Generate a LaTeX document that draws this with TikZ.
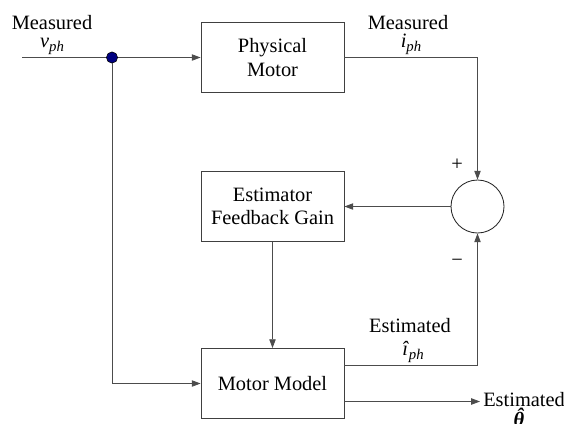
\documentclass[tikz,border=0pt]{standalone}
\usepackage{fontspec}
\setmainfont{Liberation Serif}
\usetikzlibrary{arrows.meta}
\newcommand{\lowsub}[2]{\textit{#1}\raisebox{-0.45ex}{\fontsize{10.5}{12}\selectfont\textit{#2}}}
\newcommand{\hatchar}[1]{\ooalign{#1\cr\hidewidth\kern0.1em\raisebox{0.16em}{ˆ}\hidewidth\cr}}
\newcommand{\blockbox}[3]{%
 \node[blk] ({#1}) at ({#2}) {#3};%
}
\begin{document}
\begin{tikzpicture}[x=0.025cm,y=-0.025cm,
  every node/.style={font=\fontsize{14.5}{16.5}\selectfont},
  blk/.style={draw=black!75,line width=0.6pt,minimum width=3.575cm,minimum height=1.75cm,align=center,inner sep=0pt},
  lbl/.style={anchor=base,inner sep=0pt},
  sumnode/.style={circle,draw=black!85,line width=0.6pt,minimum size=1.325cm,inner sep=0pt},
  wire/.style={draw=black!70,line width=0.6pt},
  arr/.style={wire,-{Triangle[length=2.2mm,width=1.6mm]}}]
  \useasboundingbox (0,0) rectangle (564,423);
  \coordinate (vin) at (22,57.5);
  \coordinate (thout) at (480,401.5);
  \node[circle,fill=blue!50!black,draw=black,inner sep=0pt,minimum size=0.28cm] (J) at (112,57.5) {};
  \blockbox{PM}{272.5,57.5}{Physical\\Motor}
  \blockbox{EFG}{272.5,206.5}{Estimator\\Feedback Gain}
  \blockbox{MM}{272.5,383.5}{Motor Model}
  \node[sumnode] (S) at (477.5,206.5) {};
  % signals
  \draw[wire] (vin) -- (J);
  \draw[arr] (J) -- (PM);
  \draw[arr] (J) |- (MM);
  \draw[arr] (PM) -| (S);
  \draw[arr] (S) -- (EFG);
  \draw[arr] (EFG) -- (MM);
  \draw[arr] ([yshift=0.45cm]MM.east) -| (S);
  \draw[arr] ([yshift=-0.45cm]MM.east) -- (thout);
  % labels
  \node[lbl] (mv) at (52,29) {Measured};
  \node[lbl] (vph) at (52,47) {\lowsub{v}{ph}};
  \node[lbl] (mi) at (408,29) {Measured};
  \node[lbl] (iph) at (411,47) {\lowsub{i}{ph}};
  \node[lbl] (ei) at (410,332) {Estimated};
  \node[lbl] (ihat) at (413,355) {\lowsub{î}{ph}};
  \node[lbl,anchor=base west] (et) at (483,406) {Estimated};
  \node[lbl] (that) at (519,426) {\bfseries\itshape\hatchar{θ}};
  \node (plus) at (457,165) {+};
  \node (minus) at (457,263) {−};
\end{tikzpicture}
\end{document}
